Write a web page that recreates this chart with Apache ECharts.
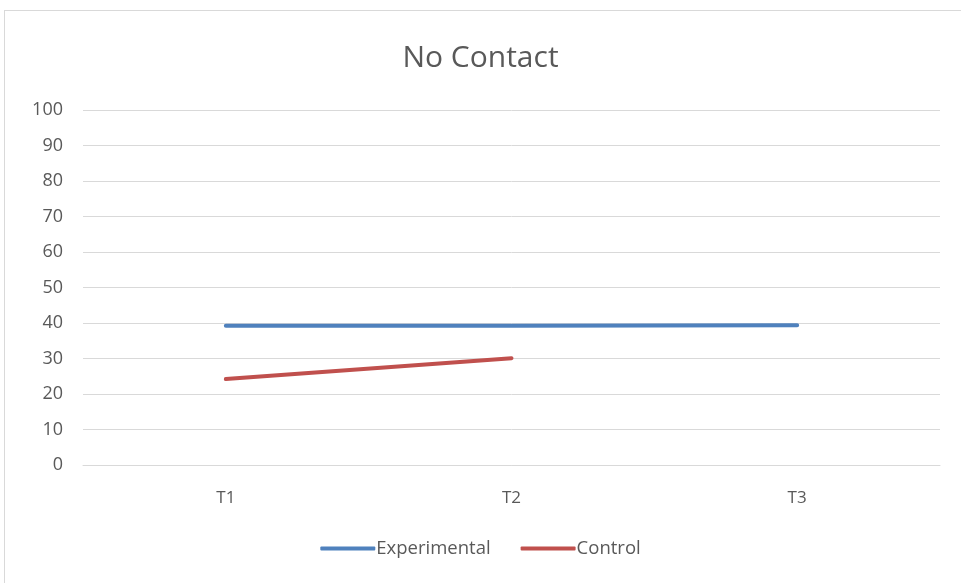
<!DOCTYPE html>
<html><head><meta charset="utf-8">
<script src="https://cdn.jsdelivr.net/npm/echarts@6/dist/echarts.min.js"></script>
<style>html,body{margin:0;padding:0;background:#fff}#c{width:961px;height:583px}
#frame{position:absolute;left:4px;top:10px;width:970px;height:590px;border:1px solid #d9d9d9;pointer-events:none}</style>
</head><body><div id="c"></div><div id="frame"></div>
<script>
const categories = ['T1', 'T2', 'T3'];
const experimental = [39.2, 39.2, 39.4];
const control = [24.2, 30.1, null];
const seriesNames = ['Experimental', 'Control'];

const chart = echarts.init(document.getElementById('c'));
const font = 'Open Sans, Liberation Sans, sans-serif';
chart.setOption({
  animation: false,
  title: { text: 'No Contact', left: 'center', top: 38, textStyle: { fontFamily: font, fontSize: 30, fontWeight: 'normal', color: '#595959' } },
  legend: { bottom: 20, itemWidth: 55, itemHeight: 4, itemGap: 30, icon: 'roundRect',
    textStyle: { fontFamily: font, fontSize: 18.5, color: '#595959', padding: [0,0,0,-4] },
    data: seriesNames },
  grid: { left: 83, right: 21, top: 110, bottom: 118 },
  xAxis: { type: 'category', data: categories, boundaryGap: true,
    axisLine: { lineStyle: { color: '#d9d9d9' } }, axisTick: { show: false },
    axisLabel: { fontFamily: font, fontSize: 17, color: '#595959', margin: 25 } },
  yAxis: { type: 'value', min: 0, max: 100, interval: 10,
    axisLine: { show: false }, axisTick: { show: false },
    splitLine: { lineStyle: { color: '#d9d9d9' } },
    axisLabel: { fontFamily: font, fontSize: 18, color: '#595959', margin: 20 } },
  series: [
    { name: seriesNames[0], type: 'line', data: experimental, showSymbol: false, symbol: 'none',
      lineStyle: { width: 4, color: '#4F81BD', cap: 'round' }, itemStyle: { color: '#4F81BD' } },
    { name: seriesNames[1], type: 'line', data: control, showSymbol: false, symbol: 'none',
      lineStyle: { width: 4, color: '#C0504D', cap: 'round' }, itemStyle: { color: '#C0504D' } }
  ]
});
</script></body></html>
